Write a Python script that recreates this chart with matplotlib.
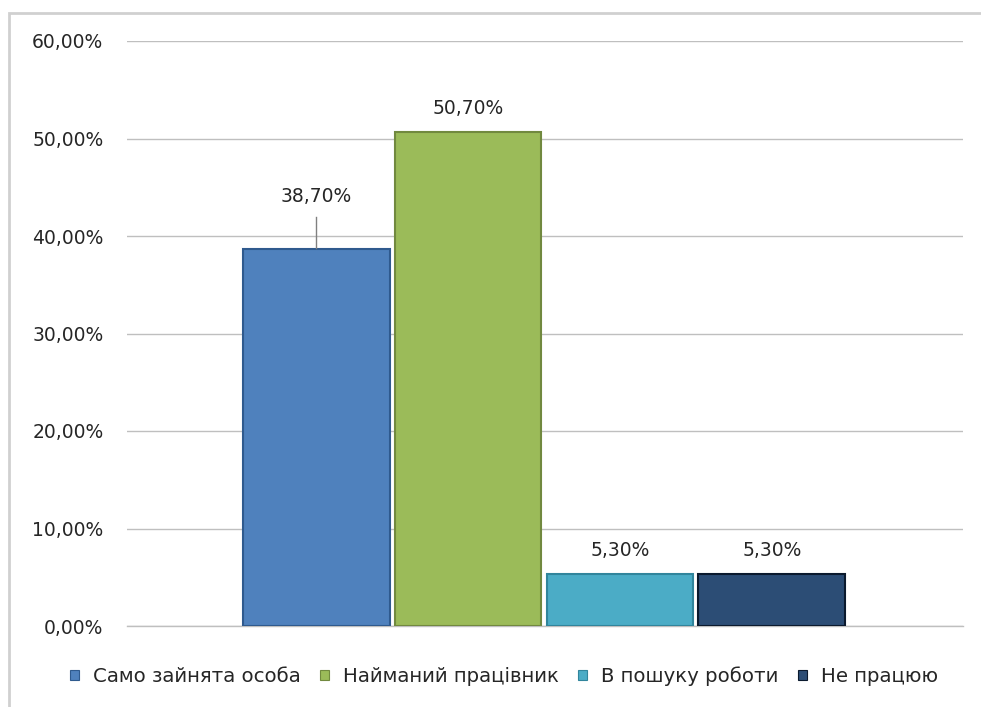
import matplotlib.pyplot as plt
from matplotlib.patches import Patch, Rectangle

categories = ['Само зайнята особа', 'Найманий працівник', 'В пошуку роботи', 'Не працюю']
values = [38.7, 50.7, 5.3, 5.3]
labels = ['38,70%', '50,70%', '5,30%', '5,30%']
colors = ['#4F81BD', '#9BBB59', '#4BACC6', '#2C4D75']
edges = ['#2F5A8E', '#71893F', '#31859C', '#0B1A2E']
yticks = [0, 10, 20, 30, 40, 50, 60]

plt.rcParams['font.family'] = ['DejaVu Sans']

fig = plt.figure(figsize=(9.81, 7.07), dpi=100)
ax = fig.add_axes([127 / 981, 1 - 626 / 707, (963 - 127) / 981, (626 - 41) / 707])

# chart area border (left and top only visible)
fig.patches.append(Rectangle((9 / 981, -0.1), 1.2, 1 - 13 / 707 + 0.1,
                             transform=fig.transFigure, fill=False,
                             edgecolor='#D0D0D0', linewidth=2, zorder=0))

step = 0.1818
width = 0.1758
for i, (v, c, e) in enumerate(zip(values, colors, edges)):
    x = (i - 1.5) * step - 0.0012
    ax.bar(x, v, width=width, color=c, edgecolor=e, linewidth=1.5, zorder=3)

# data labels
for i, (v, lab) in enumerate(zip(values, labels)):
    x = (i - 1.5) * step - 0.0012
    if i == 0:
        ax.plot([x, x], [v + 0.1, v + 3.3], color='#808080', linewidth=1, zorder=4)
        ax.text(x, v + 5.3, lab, ha='center', va='center', fontsize=13.5, color='#262626')
    else:
        ax.text(x, v + 2.4, lab, ha='center', va='center', fontsize=13.5, color='#262626')

ax.set_xlim(-0.5, 0.5)
ax.set_ylim(0, 60)
ax.set_yticks(yticks)
ax.set_yticklabels(['%d,00%%' % t for t in yticks], fontsize=13.5, color='#262626')
ax.set_xticks([])
ax.tick_params(axis='y', length=0, pad=17)
ax.grid(axis='y', color='#BFBFBF', linewidth=1, zorder=0)
for s in ['top', 'right', 'left']:
    ax.spines[s].set_visible(False)
ax.spines['bottom'].set_color('#BFBFBF')
ax.spines['bottom'].set_linewidth(1)

handles = [Patch(facecolor=c, edgecolor=e, linewidth=0.8) for c, e in zip(colors, edges)]
fig.legend(handles, categories, loc='center', bbox_to_anchor=(504 / 981, 1 - 676 / 707),
           ncol=4, frameon=False, fontsize=14.2, handlelength=0.45, handleheight=0.45,
           handletextpad=0.7, columnspacing=1.0, labelcolor='#262626')

fig.savefig('out.png', dpi=100)
